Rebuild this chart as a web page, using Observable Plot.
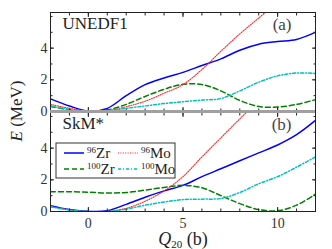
<!DOCTYPE html>
<html>
<head>
<meta charset="utf-8">
<script src="https://cdn.jsdelivr.net/npm/d3@7"></script>
<script src="https://cdn.jsdelivr.net/npm/@observablehq/plot@0.6"></script>
<style>
  body { margin: 0; background: white; }
  #chart { position: relative; width: 332px; height: 249px; font-family: "Liberation Serif", serif; }
  #chart svg.plot { position: absolute; left: 0; }
  #overlay { position: absolute; left: 0; top: 0; pointer-events: none; }
</style>
</head>
<body>
<div id="chart"></div>
<script>
// Deformation grid Q20 (b)
const Q = [-2, -1, 0, 1, 2, 3, 4, 5, 6, 7, 8, 9, 10, 11, 12];

// UNEDF1 (panel a), E in MeV
const zr96_u  = [0.8, 0.35, 0.03, 0.2, 1.0, 1.7, 2.12, 2.47, 2.9, 3.32, 3.87, 4.25, 4.42, 4.55, 5.0];
const zr100_u = [0.32, 0.12, 0.02, 0.1, 0.45, 0.95, 1.4, 1.72, 1.7, 1.3, 0.7, 0.32, 0.28, 0.45, 0.75];
const mo96_u  = [0.45, 0.2, 0.03, 0.05, 0.3, 0.65, 1.15, 1.7, 2.65, 3.8, 4.9, 5.9, 6.9, null, null];
const mo100_u = [0.35, 0.12, 0.01, 0.05, 0.2, 0.35, 0.5, 0.62, 0.72, 0.82, 1.3, 1.85, 2.25, 2.43, 2.4];

// SkM* (panel b)
const zr96_s  = [0.37, 0.12, 0.01, 0.05, 0.45, 0.9, 1.3, 1.65, 2.2, 2.7, 3.2, 3.7, 4.2, 4.85, 5.75];
const zr100_s = [1.25, 1.25, 1.22, 1.17, 1.2, 1.35, 1.52, 1.65, 1.5, 1.0, 0.5, 0.12, 0.05, 0.4, 1.1];
const mo96_s  = [0.3, 0.1, 0.0, 0.0, 0.2, 0.65, 1.3, 2.2, 3.45, 4.65, 5.85, 7.0, null, null, null];
const mo100_s = [0.3, 0.1, 0.0, 0.0, 0.15, 0.4, 0.6, 0.75, 0.78, 0.82, 1.2, 1.75, 2.2, 2.8, 3.45];

const seriesNames = ["96Zr", "100Zr", "96Mo", "100Mo"];
const xMajor = [0, 5, 10];
const xMinor = d3.range(-2, 13, 1);
const yMajor = [0, 2, 4];
const yMinor = d3.range(0, 7, 1);

const styles = {
  "96Zr":  {stroke: "#0000ff", strokeWidth: 1.5, strokeDasharray: null},
  "100Zr": {stroke: "#008000", strokeWidth: 1.5, strokeDasharray: "5,3"},
  "96Mo":  {stroke: "#ff2020", strokeWidth: 1.1, strokeDasharray: "1,1.4"},
  "100Mo": {stroke: "#00bfbf", strokeWidth: 1.5, strokeDasharray: "3,2,1,2"}
};

function rows(arrs) {
  const out = [];
  seriesNames.forEach((name, i) => {
    Q.forEach((q, j) => out.push({name, q, e: arrs[i][j]}));
  });
  return out;
}

const FONT = "Liberation Serif";

function panel({data, label, tag, showXLabels, marginTop, marginBottom, height}) {
  const marks = [];
  for (const name of seriesNames) {
    const s = styles[name];
    marks.push(Plot.line(data.filter(d => d.name === name), {
      x: "q", y: "e", curve: "catmull-rom", clip: true,
      stroke: s.stroke, strokeWidth: s.strokeWidth, strokeDasharray: s.strokeDasharray
    }));
  }
  marks.push(
    Plot.frame({stroke: "#222", strokeWidth: 1}),
    Plot.axisX(xMinor, {anchor: "bottom", tickSize: -2.5, tickFormat: () => "", label: null, stroke: "#222"}),
    Plot.axisX(xMinor, {anchor: "top", tickSize: -2.5, tickFormat: () => "", label: null, stroke: "#222"}),
    Plot.axisY(yMinor, {anchor: "left", tickSize: -2.5, tickFormat: () => "", label: null, stroke: "#222"}),
    Plot.axisY(yMinor, {anchor: "right", tickSize: -2.5, tickFormat: () => "", label: null, stroke: "#222"}),
    Plot.axisX(xMajor, {anchor: "bottom", tickSize: -4, tickPadding: showXLabels ? 11 : 0,
      tickFormat: showXLabels ? (d => String(d)) : () => "", label: null, stroke: "#222",
      fontSize: 14, fill: "#333"}),
    Plot.axisX(xMajor, {anchor: "top", tickSize: -4, tickFormat: () => "", label: null, stroke: "#222"}),
    Plot.axisY(yMajor, {anchor: "left", tickSize: -4, tickPadding: 7, tickFormat: d => String(d),
      label: null, stroke: "#222", fontSize: 14, fill: "#333"}),
    Plot.axisY(yMajor, {anchor: "right", tickSize: -4, tickFormat: () => "", label: null, stroke: "#222"}),
    Plot.text([label], {frameAnchor: "top-left", text: d => d, dx: 12, dy: 11, textAnchor: "start",
      lineAnchor: "middle", fontSize: 17, fill: "#222", fontFamily: FONT}),
    Plot.text([tag], {frameAnchor: "top-right", text: d => d, dx: -24, dy: 12, textAnchor: "end",
      lineAnchor: "middle", fontSize: 17, fill: "#444", fontFamily: FONT})
  );
  const svg = Plot.plot({
    width: 332, height,
    marginLeft: 50, marginRight: 17, marginTop, marginBottom,
    x: {domain: [-2, 12]},
    y: {domain: [0, 6.25]},
    style: {background: "transparent", overflow: "visible", fontFamily: FONT, fontSize: "14px", color: "#333"},
    marks
  });
  svg.classList.add("plot");
  return svg;
}

const chart = document.getElementById("chart");
const topPanel = panel({data: rows([zr96_u, zr100_u, mo96_u, mo100_u]), label: "UNEDF1", tag: "(a)",
  showXLabels: false, marginTop: 12, marginBottom: 0, height: 111});
topPanel.style.top = "0px";
const botPanel = panel({data: rows([zr96_s, zr100_s, mo96_s, mo100_s]), label: "SkM*", tag: "(b)",
  showXLabels: true, marginTop: 0, marginBottom: 38, height: 137});
botPanel.style.top = "112px";
chart.appendChild(topPanel);
chart.appendChild(botPanel);

const ov = d3.select(chart).append("svg").attr("id", "overlay").attr("width", 332).attr("height", 249)
  .style("font-family", FONT);
ov.append("rect").attr("x", 50).attr("y", 110).attr("width", 265).attr("height", 3).attr("fill", "#a0a0a0");

const yt = ov.append("text").attr("transform", "translate(22,111) rotate(-90)")
  .attr("text-anchor", "middle").attr("font-size", 17).attr("fill", "#222");
yt.append("tspan").attr("font-style", "italic").text("E");
yt.append("tspan").text(" (MeV)");

const xt = ov.append("text").attr("x", 183).attr("y", 245).attr("text-anchor", "middle")
  .attr("font-size", 18).attr("fill", "#222");
xt.append("tspan").attr("font-style", "italic").text("Q");
xt.append("tspan").attr("font-size", 11).attr("dy", 3).text("20");
xt.append("tspan").attr("dy", -3).text(" (b)");

const lg = ov.append("g").attr("transform", "translate(56,143)");
lg.append("rect").attr("width", 119).attr("height", 35).attr("fill", "white").attr("stroke", "#333").attr("stroke-width", 1);
const legendItems = [
  {name: "96Zr",  sup: "96",  el: "Zr", x: 8,  y: 10},
  {name: "96Mo",  sup: "96",  el: "Mo", x: 62, y: 10},
  {name: "100Zr", sup: "100", el: "Zr", x: 8,  y: 26},
  {name: "100Mo", sup: "100", el: "Mo", x: 62, y: 26}
];
for (const it of legendItems) {
  const s = styles[it.name];
  lg.append("line").attr("x1", it.x).attr("x2", it.x + 20).attr("y1", it.y).attr("y2", it.y)
    .attr("stroke", s.stroke).attr("stroke-width", s.strokeWidth)
    .attr("stroke-dasharray", s.strokeDasharray);
  const t = lg.append("text").attr("x", it.x + 23).attr("y", it.y + 5).attr("font-size", 15).attr("fill", "#222");
  t.append("tspan").attr("font-size", 9).attr("dy", -5).text(it.sup);
  t.append("tspan").attr("dy", 5).text(it.el);
}
</script>
</body>
</html>
